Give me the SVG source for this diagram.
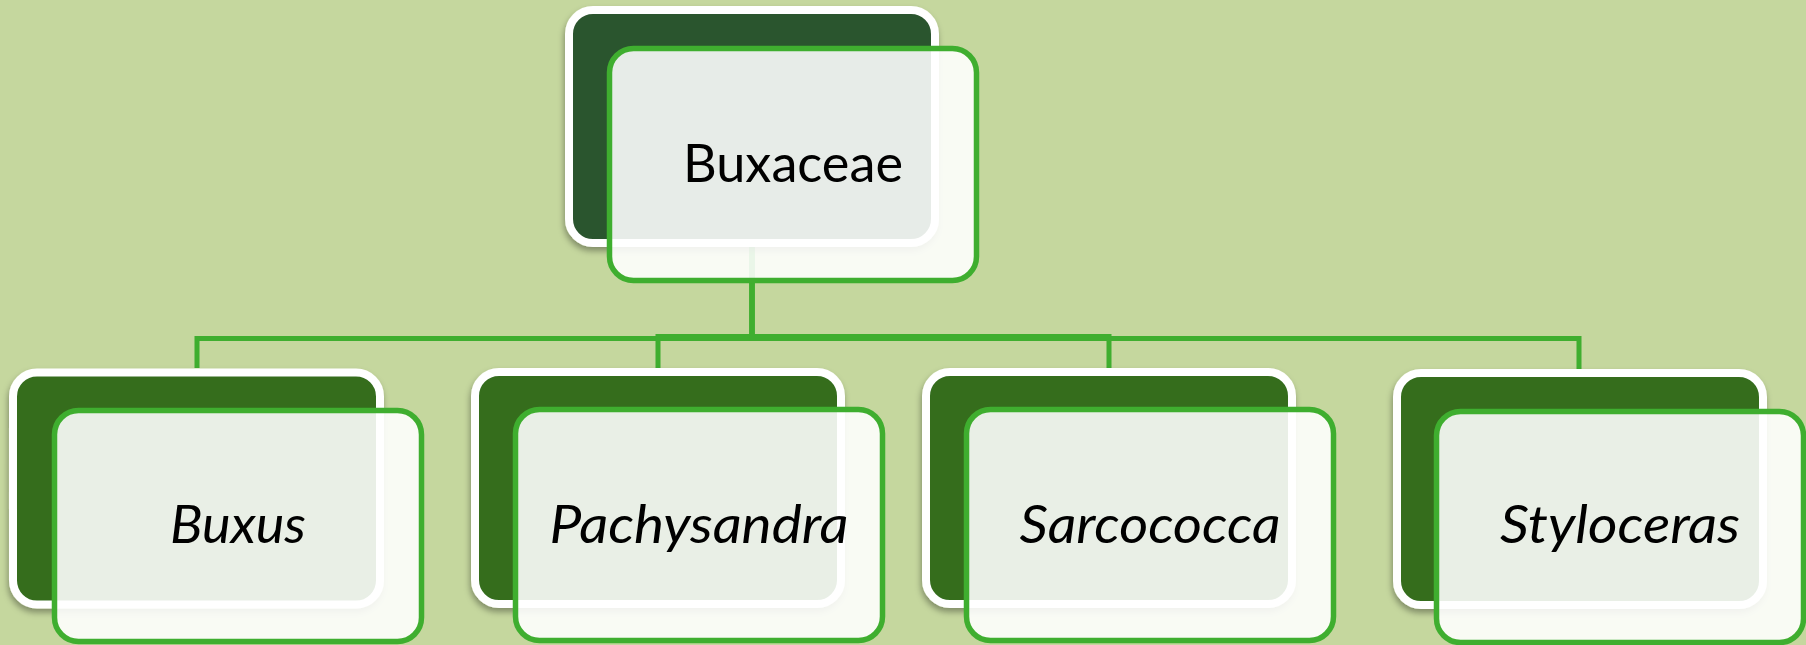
<svg xmlns="http://www.w3.org/2000/svg" width="1806" height="645" viewBox="0 0 1806 645">
  <defs>
    <filter id="shadow" x="-10%" y="-10%" width="120%" height="125%">
      <feDropShadow dx="-1" dy="4" stdDeviation="3" flood-color="#000" flood-opacity="0.35"/>
    </filter>
  </defs>
  <style>
    .bg { fill: #c5d79e; }
    .back { stroke: #ffffff; stroke-width: 8; filter: url(#shadow); }
    .back-root { fill: #2b542d; }
    .back-leaf { fill: #346d1f; }
    .front { fill: #ffffff; fill-opacity: 0.89; stroke: #3fae2f; stroke-width: 5.5; }
    .conn { fill: none; stroke: #3fae2f; stroke-width: 5; }
    .label { font-family: Lato, "Liberation Sans", Arial, sans-serif; font-size: 52px; fill: #000; text-anchor: middle; }
    .genus { font-style: italic; }
  </style>

  <rect class="bg" x="0" y="0" width="1806" height="645"/>

  <!-- elbow connectors from the family node to each genus -->
  <g id="connectors">
    <path class="conn" d="M752,247 V338.5 H197 V368"/>
    <path class="conn" d="M752,247 V336.5 H658 V368"/>
    <path class="conn" d="M752,247 V336.5 H1109 V368"/>
    <path class="conn" d="M752,247 V338.5 H1579 V369"/>
  </g>

  <g id="node-buxaceae">
    <rect class="back back-root" x="569" y="10" width="366" height="233" rx="24"/>
    <rect class="front" x="609.5" y="48.5" width="367" height="232" rx="24"/>
    <text class="label" x="793" y="182" textLength="220" lengthAdjust="spacingAndGlyphs">Buxaceae</text>
  </g>

  <g id="node-buxus">
    <rect class="back back-leaf" x="13" y="372.5" width="367" height="232" rx="24"/>
    <rect class="front" x="54.5" y="410.5" width="367" height="231" rx="24"/>
    <text class="label genus" x="238" y="543" textLength="136" lengthAdjust="spacingAndGlyphs">Buxus</text>
  </g>

  <g id="node-pachysandra">
    <rect class="back back-leaf" x="475" y="372" width="366" height="232" rx="24"/>
    <rect class="front" x="515.5" y="409.5" width="367" height="231" rx="24"/>
    <text class="label genus" x="699" y="543" textLength="299" lengthAdjust="spacingAndGlyphs">Pachysandra</text>
  </g>

  <g id="node-sarcococca">
    <rect class="back back-leaf" x="926" y="372" width="366" height="232" rx="24"/>
    <rect class="front" x="966.5" y="409.5" width="367" height="231" rx="24"/>
    <text class="label genus" x="1150" y="543" textLength="261" lengthAdjust="spacingAndGlyphs">Sarcococca</text>
  </g>

  <g id="node-styloceras">
    <rect class="back back-leaf" x="1397" y="373" width="366" height="232" rx="24"/>
    <rect class="front" x="1436.5" y="411.5" width="367" height="231" rx="24"/>
    <text class="label genus" x="1620" y="543" textLength="240" lengthAdjust="spacingAndGlyphs">Styloceras</text>
  </g>
</svg>
